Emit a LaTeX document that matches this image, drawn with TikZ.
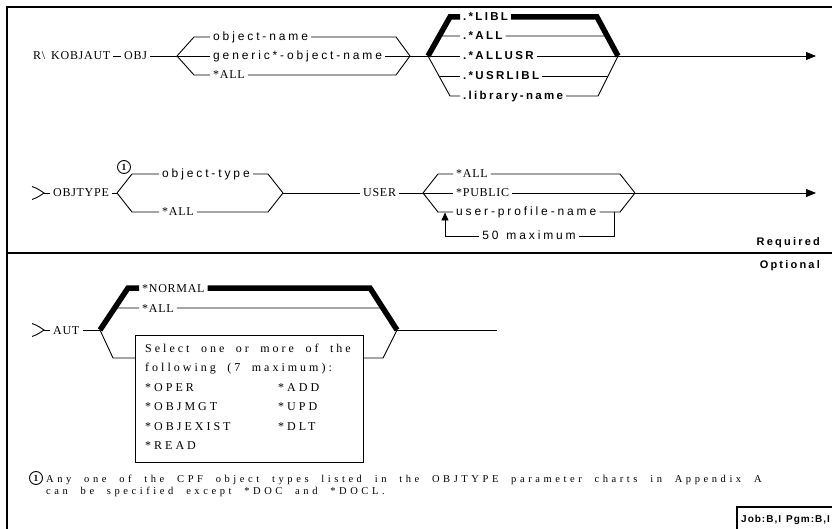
\documentclass[tikz,border=0pt]{standalone}
\usepackage{fontspec}
\setmainfont{Liberation Serif}
\newfontfamily\serifsp[LetterSpace=6]{Liberation Serif}
\newfontfamily\serifwide[LetterSpace=25]{Liberation Serif}
\newfontfamily\serifnote[LetterSpace=34]{Liberation Serif}
\newfontfamily\sanssp[LetterSpace=24]{Liberation Sans}
\newfontfamily\sansbd[LetterSpace=20]{Liberation Sans}
\newfontfamily\sansjob[LetterSpace=10]{Liberation Sans}
\newcommand\wsfive{\spaceskip=8pt\relax}
\newcommand\wsjob{\spaceskip=5pt\relax}
\newcommand\wsbox{\spaceskip=11.5pt\relax}
\newcommand\wsnote{\spaceskip=12.8pt\relax}
\newcommand\wscmd{\spaceskip=6pt\relax}
\usetikzlibrary{arrows.meta,calc}
\begin{document}
\begin{tikzpicture}[x=1pt,y=-1pt,
  txt/.style={inner xsep=3pt, inner ysep=0pt, text height=8pt, text depth=0pt, anchor=west},
  capt/.style={txt, font=\fontsize{12}{12}\selectfont\serifsp\wscmd},
  lc/.style={txt, font=\fontsize{12}{12}\selectfont\sanssp\wsfive},
  bd/.style={txt, font=\fontsize{11.5}{11.5}\selectfont\sansbd\bfseries},
  wide/.style={txt, inner xsep=0pt, font=\fontsize{12}{12}\selectfont\serifwide\wsbox},
  note/.style={txt, inner xsep=0pt, font=\fontsize{10.5}{10.5}\selectfont\serifnote\wsnote},
  ln/.style={line width=0.9pt},
  thk/.style={line width=5.5pt, line join=miter},
  arr/.style={ln, -{Triangle[length=10pt,width=8pt]}},
  num/.style={circle, draw, line width=0.9pt, inner sep=0pt, minimum size=13pt, font=\fontsize{9.5}{9.5}\selectfont\bfseries},
  framel/.style={line width=1.2pt}
]
\useasboundingbox (0,0) rectangle (832,529);
% frame
\coordinate (fTL) at (7,7); \coordinate (fTR) at (832,7); \coordinate (fBL) at (7,529);
\draw[framel] (fTR) -- (fTL) -- (fBL);
\coordinate (sepL) at (7,253); \coordinate (sepR) at (832,253);
\draw[framel] (sepL) -- (sepR);
\node[bd, anchor=east, font=\fontsize{11}{11}\selectfont\sansbd\bfseries] (req) at (823,242) {Required};
\node[bd, anchor=east, font=\fontsize{11}{11}\selectfont\sansbd\bfseries] (opt) at (823,265) {Optional};

% ---------- row 1
\node[capt] (cmd) at (30,56) {R\textbackslash\ KOBJAUT};
\node[capt] (obj) at (121,56) {OBJ};
\draw[ln] (cmd.east) -- (obj.west);
\coordinate (oL) at (177,56); \coordinate (oR) at (410,56);
\coordinate (oTL) at (194,37); \coordinate (oBL) at (194,75);
\coordinate (oTR) at (396,37); \coordinate (oBR) at (396,75);
\node[lc] (on) at (210,37) {object-name};
\node[lc] (gon) at (210,56) {generic*-object-name};
\node[capt] (oall) at (210,75) {*ALL};
\draw[ln] (obj.east) -- (oL);
\draw[ln] (oL) -- (oTL) -- (on.west) (on.east) -- (oTR) -- (oR);
\draw[ln] (oL) -- (gon.west) (gon.east) -- (oR);
\draw[ln] (oL) -- (oBL) -- (oall.west) (oall.east) -- (oBR) -- (oR);

\coordinate (lL) at (428,56); \coordinate (lR) at (618,56);
\coordinate (lTL) at (450,17); \coordinate (lTR) at (597,17);
\coordinate (lBL) at (450,96); \coordinate (lBR) at (598,96);
\coordinate (la1) at ($(lL)!0.513!(lTL)$); \coordinate (la2) at ($(lR)!0.513!(lTR)$);
\coordinate (lu1) at ($(lL)!0.5!(lBL)$); \coordinate (lu2) at ($(lR)!0.5!(lBR)$);
\node[bd] (libl) at (460,17) {.*LIBL};
\node[bd] (lall) at (460,36) {.*ALL};
\node[bd] (lusr) at (460,56) {.*ALLUSR};
\node[bd] (lul) at (460,76) {.*USRLIBL};
\node[bd] (lname) at (460,96) {.library-name};
\draw[ln] (oR) -- (lL);
\draw[ln] (lL) -- (lBL) -- (lname.west) (lname.east) -- (lBR) -- (lR);
\draw[ln] (lL) -- (lusr.west) (lusr.east) -- (lR);
\draw[ln] (la1) -- (lall.west) (lall.east) -- (la2);
\draw[ln] (lu1) -- (lul.west) (lul.east) -- (lu2);
\draw[thk] (lL) -- (lTL) -- (libl.west) (libl.east) -- (lTR) -- (lR);
\coordinate (e1) at (816,56);
\draw[arr] (lR) -- (e1);

% ---------- row 2
\coordinate (c2) at (44,193);
\draw[ln] (32,186.5) .. controls (38,188.5) and (41,191) .. (c2) .. controls (41,195) and (38,197.5) .. (32,199.5);
\node[capt] (otype) at (50,193) {OBJTYPE};
\draw[ln] (c2) -- (otype.west);
\coordinate (tL) at (117,193); \coordinate (tR) at (283,193);
\coordinate (tTL) at (132,174); \coordinate (tBL) at (132,212);
\coordinate (tTR) at (268,174); \coordinate (tBR) at (268,212);
\node[lc] (ot) at (159,174) {object-type};
\node[capt] (tall) at (159,212) {*ALL};
\node[num] (n1) at (124,167) {1};
\node[capt] (user) at (360,193) {USER};
\draw[ln] (otype.east) -- (tL);
\draw[ln] (tL) -- (tTL) -- (ot.west) (ot.east) -- (tTR) -- (tR);
\draw[ln] (tL) -- (tBL) -- (tall.west) (tall.east) -- (tBR) -- (tR);
\draw[ln] (tR) -- (user.west);

\coordinate (uL) at (423,193); \coordinate (uR) at (635,193);
\coordinate (uTL) at (438,174); \coordinate (uBL) at (438,212);
\coordinate (uTR) at (620,174); \coordinate (uBR) at (620,212);
\node[capt] (uall) at (453,174) {*ALL};
\node[capt] (upub) at (453,193) {*PUBLIC};
\node[lc] (upn) at (453,212) {user-profile-name};
\draw[ln] (user.east) -- (uL);
\draw[ln] (uL) -- (uTL) -- (uall.west) (uall.east) -- (uTR) -- (uR);
\draw[ln] (uL) -- (upub.west) (upub.east) -- (uR);
\draw[ln] (uL) -- (uBL) -- (upn.west) (upn.east) -- (uBR) -- (uR);
\coordinate (lpR) at (614,212); \coordinate (lpRB) at (614,236);
\coordinate (lpLB) at (445,236); \coordinate (lpL) at (445,212.5);
\node[lc, anchor=center] (max) at (529,236) {50 maximum};
\draw[ln] (lpR) -- (lpRB) -- (max.east);
\draw[ln, -{Triangle[length=8pt,width=7pt]}] (max.west) -- (lpLB) -- (lpL);
\coordinate (e2) at (816,193);
\draw[arr] (uR) -- (e2);

% ---------- row 3
\coordinate (c3) at (44,330);
\draw[ln] (32,323.5) .. controls (38,325.5) and (41,328) .. (c3) .. controls (41,332) and (38,334.5) .. (32,336.5);
\node[capt] (aut) at (50,330) {AUT};
\draw[ln] (c3) -- (aut.west);
\coordinate (aL) at (100,330); \coordinate (aR) at (397,330);
\coordinate (aTL) at (128,288); \coordinate (aTR) at (370,288);
\coordinate (aBL) at (113,358); \coordinate (aBR) at (383,358);
\coordinate (aa1) at ($(aL)!0.524!(aTL)$); \coordinate (aa2) at ($(aR)!0.524!(aTR)$);
\node[capt] (norm) at (139,288) {*NORMAL};
\node[capt] (aall) at (139,308) {*ALL};
\node[draw, line width=0.9pt, anchor=north west, inner sep=0pt, minimum width=228pt, minimum height=127pt] (box) at (135,335) {};
\coordinate (bxL) at (135,358); \coordinate (bxR) at (363,358);
\node[wide] (b1) at (145,348) {Select one or more of the};
\node[wide] (b2) at (145,367) {following (7 maximum):};
\node[wide] (b3) at (145,387) {*OPER};
\node[wide] (b4) at (145,406) {*OBJMGT};
\node[wide] (b5) at (145,426) {*OBJEXIST};
\node[wide] (b6) at (145,445) {*READ};
\node[wide] (b7) at (278,387) {*ADD};
\node[wide] (b8) at (278,406) {*UPD};
\node[wide] (b9) at (278,426) {*DLT};
\draw[ln] (aut.east) -- (aL);
\draw[ln] (aa1) -- (aall.west) (aall.east) -- (aa2);
\draw[ln] (aL) -- (aBL) -- (bxL) (bxR) -- (aBR) -- (aR);
\draw[thk] (aL) -- (aTL) -- (norm.west) (norm.east) -- (aTR) -- (aR);
\coordinate (e3) at (497,330);
\draw[ln] (aR) -- (e3);

% ---------- footnote
\node[num] (n1b) at (36,478) {1};
\node[note] (fn1) at (46,478) {Any one of the CPF object types listed in the OBJTYPE parameter charts in Appendix A};
\node[note] (fn2) at (46,490) {can be specified except *DOC and *DOCL.};

% ---------- job box
\coordinate (jb1) at (737,529); \coordinate (jb2) at (737,507); \coordinate (jb3) at (832,507);
\draw[framel] (jb1) -- (jb2) -- (jb3);
\node[txt, inner xsep=0pt, font=\fontsize{10}{10}\selectfont\sansjob\bfseries\wsjob] (job) at (741,518) {Job:B,I Pgm:B,I};
\end{tikzpicture}
\end{document}
